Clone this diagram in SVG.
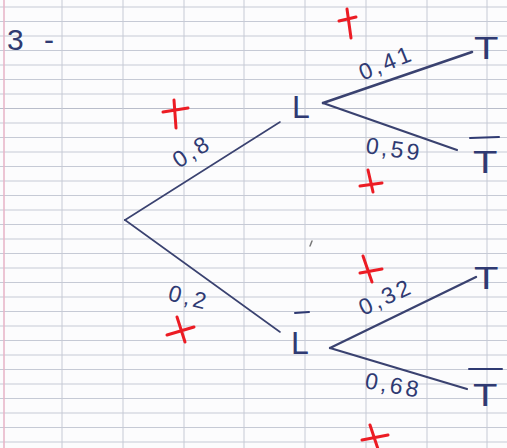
<svg xmlns="http://www.w3.org/2000/svg" width="507" height="448" viewBox="0 0 507 448">
<defs>
<style>
.grid{stroke:#c6cad5;stroke-width:1;fill:none}
.edge{stroke:#3a4270;stroke-linecap:round;fill:none}
.ink{fill:#2f3a72;font-family:"Liberation Sans","DejaVu Sans",sans-serif}
.lbl{font-size:23px;text-anchor:middle;letter-spacing:3px}
.node{font-size:32px}
.bar{stroke:#2f3a72;stroke-width:2;stroke-linecap:round}
.red{stroke:#ec1c24;stroke-width:3;stroke-linecap:round;fill:none}
</style>
</defs>
<rect width="507" height="448" fill="#fcfcfd"/>
<g id="paper">
<path class="grid" d="M0 7H507M0 21.5H507M0 36H507M0 50.5H507M0 65H507M0 79.5H507M0 94H507M0 123H507M0 137.5H507M0 152H507M0 166.5H507M0 181H507M0 195.5H507M0 210H507M0 224.5H507M0 239H507M0 253.5H507M0 268H507M0 282.5H507M0 297H507M0 311.5H507M0 326H507M0 340.5H507M0 355H507M0 369.5H507M0 384H507M0 398.5H507M0 413H507M0 427.5H507M0 442H507"/>
<path d="M0 108.5H507" stroke="#b9bdca" stroke-width="1.2"/>
<path class="grid" d="M62 0V448M123 0V448M184 0V448M244 0V448M305 0V448M366 0V448M427 0V448M487 0V448"/>
<path d="M4 0V448" stroke="#e7b3c6" stroke-width="1.5"/>
<text class="ink" x="7" y="50" font-size="30" letter-spacing="6">3 -</text>
</g>
<g id="connectors">
<line class="edge" x1="125" y1="220" x2="280" y2="122" stroke-width="1.6"/>
<line class="edge" x1="125" y1="220" x2="280" y2="332" stroke-width="1.6"/>
<line class="edge" x1="323" y1="103" x2="472" y2="52" stroke-width="2.6"/>
<line class="edge" x1="323" y1="103" x2="457" y2="150" stroke-width="2.2"/>
<line class="edge" x1="330" y1="348" x2="476" y2="277" stroke-width="2.4"/>
<line class="edge" x1="330" y1="348" x2="467" y2="389" stroke-width="2.2"/>
<text class="ink lbl" transform="translate(196,158) rotate(-32)">0,8</text>
<text class="ink lbl" transform="translate(187,305) rotate(14)">0,2</text>
<text class="ink lbl" transform="translate(389,70) rotate(-22)">0,41</text>
<text class="ink lbl" transform="translate(393,157) rotate(8)">0,59</text>
<text class="ink lbl" transform="translate(389,304) rotate(-25)">0,32</text>
<text class="ink lbl" transform="translate(392,393) rotate(10)">0,68</text>
</g>
<g id="root"><circle cx="125" cy="220" r="1" fill="#3a4270"/></g>
<g id="node-L"><text class="ink node" x="292" y="118">L</text></g>
<g id="node-Lbar"><line class="bar" x1="295" y1="313" x2="309" y2="312"/><text class="ink node" x="291" y="354">L</text></g>
<g id="node-T1"><text class="ink node" transform="translate(474,59) scale(1.25,1)">T</text></g>
<g id="node-Tbar1"><line class="bar" x1="470" y1="138" x2="499" y2="137"/><text class="ink node" transform="translate(473,173) scale(1.25,1)">T</text></g>
<g id="node-T2"><text class="ink node" transform="translate(474,289) scale(1.25,1)">T</text></g>
<g id="node-Tbar2"><line class="bar" x1="469" y1="369" x2="502" y2="369"/><text class="ink node" transform="translate(473,406) scale(1.25,1)">T</text></g>
<g id="marks">
<path class="red" d="M339 21L356 17M347 9L351 38"/>
<path class="red" d="M163 112L188 108M174 100L176 128"/>
<path class="red" d="M360 186L382 183M368 170L373 192"/>
<path class="red" d="M360 273L382 269M363 256L372 282"/>
<path class="red" d="M167 335L194 327M177 317L185 342"/>
<path class="red" d="M362 440L388 435M370 425L378 449"/>
<path d="M312 241L310 246" stroke="#777" stroke-width="1.5" stroke-linecap="round"/>
</g>
</svg>
